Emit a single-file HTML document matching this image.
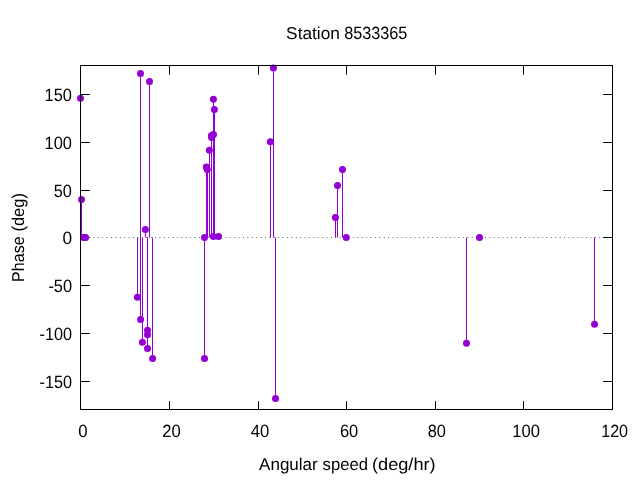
<!DOCTYPE html>
<html lang="en"><head><meta charset="utf-8"><title>Station 8533365</title>
<style>html,body{margin:0;padding:0;background:#fff;overflow:hidden}svg{display:block}text{text-rendering:geometricPrecision;font-family:"Liberation Sans",sans-serif;font-size:17.2px;fill:#000}</style></head><body>
<svg width="640" height="480" viewBox="0 0 640 480">
<rect width="640" height="480" fill="#fff"/>
<line x1="80.5" y1="237.5" x2="612.5" y2="237.5" stroke="#000" stroke-opacity="0.62" stroke-width="1" stroke-dasharray="1 3.3987" stroke-dashoffset="0.3"/>
<path d="M80.5 381.5h9.3M612.5 381.5h-9.3M80.5 333.5h9.3M612.5 333.5h-9.3M80.5 285.5h9.3M612.5 285.5h-9.3M80.5 237.5h9.3M612.5 237.5h-9.3M80.5 190.5h9.3M612.5 190.5h-9.3M80.5 142.5h9.3M612.5 142.5h-9.3M80.5 94.5h9.3M612.5 94.5h-9.3M169.5 409.5v-8.4M169.5 65.5v9.2M258.5 409.5v-8.4M258.5 65.5v9.2M346.5 409.5v-8.4M346.5 65.5v9.2M435.5 409.5v-8.4M435.5 65.5v9.2M523.5 409.5v-8.4M523.5 65.5v9.2" stroke="#000" stroke-width="1" fill="none"/>
<path d="M80.5 237.5V98.3M81.5 237.5V199.4M140.5 237.5V73.6M149.5 237.5V81.4M145.4 237.5V229.4M137.5 237.5V297.25M140.5 237.5V319.4M142.5 237.5V342.25M147.5 237.5V330.25M147.5 237.5V334.75M147.5 237.5V348.4M152.5 237.5V358.4M204.5 237.5V358.4M206.5 237.5V167.0M207.5 237.5V169.4M209.5 237.5V150.3M211.5 237.5V135.4M211.5 237.5V137.5M213.5 237.5V134.5M213.5 237.5V99.25M214.5 237.5V109.6M270.5 237.5V141.7M273.5 237.5V67.9M275.5 237.5V398.4M335.5 237.5V217.5M337.5 237.5V185.6M342.5 237.5V169.55M466.5 237.5V343.3M594.5 237.5V324.35" stroke="#9400d3" stroke-width="1" fill="none"/>
<g fill="#9400d3">
<circle cx="80.5" cy="98.3" r="3.5"/>
<circle cx="81.5" cy="199.4" r="3.5"/>
<circle cx="83.5" cy="237.5" r="3.5"/>
<circle cx="85.0" cy="237.5" r="3.5"/>
<circle cx="85.5" cy="237.5" r="3.5"/>
<circle cx="140.5" cy="73.6" r="3.5"/>
<circle cx="149.5" cy="81.4" r="3.5"/>
<circle cx="145.4" cy="229.4" r="3.5"/>
<circle cx="137.45" cy="297.25" r="3.5"/>
<circle cx="140.6" cy="319.4" r="3.5"/>
<circle cx="142.4" cy="342.25" r="3.5"/>
<circle cx="147.5" cy="330.25" r="3.5"/>
<circle cx="147.5" cy="334.75" r="3.5"/>
<circle cx="147.5" cy="348.4" r="3.5"/>
<circle cx="152.6" cy="358.4" r="3.5"/>
<circle cx="204.5" cy="237.5" r="3.5"/>
<circle cx="204.5" cy="358.4" r="3.5"/>
<circle cx="206.3" cy="167.0" r="3.5"/>
<circle cx="207.3" cy="169.4" r="3.5"/>
<circle cx="209.4" cy="150.3" r="3.5"/>
<circle cx="211.5" cy="135.4" r="3.5"/>
<circle cx="211.6" cy="137.5" r="3.5"/>
<circle cx="213.5" cy="134.5" r="3.5"/>
<circle cx="213.4" cy="99.25" r="3.5"/>
<circle cx="214.4" cy="109.6" r="3.5"/>
<circle cx="213.4" cy="236.4" r="3.5"/>
<circle cx="218.5" cy="236.4" r="3.5"/>
<circle cx="270.4" cy="141.7" r="3.5"/>
<circle cx="273.45" cy="67.9" r="3.5"/>
<circle cx="275.5" cy="398.4" r="3.5"/>
<circle cx="335.4" cy="217.5" r="3.5"/>
<circle cx="337.5" cy="185.6" r="3.5"/>
<circle cx="342.5" cy="169.55" r="3.5"/>
<circle cx="346.25" cy="237.5" r="3.5"/>
<circle cx="466.5" cy="343.3" r="3.5"/>
<circle cx="479.5" cy="237.5" r="3.5"/>
<circle cx="594.5" cy="324.35" r="3.5"/>
</g>
<rect x="80.5" y="65.5" width="532.0" height="344.0" fill="none" stroke="#000" stroke-width="1"/>
<text y="39"><tspan x="286.14" textLength="53.75" lengthAdjust="spacingAndGlyphs">Station</tspan></text>
<text y="39.1" style="font-size:17.8px"><tspan x="344.19" textLength="63.21" lengthAdjust="spacingAndGlyphs">8533365</tspan></text>
<text y="470"><tspan x="259.10" textLength="58.66" lengthAdjust="spacingAndGlyphs">Angular</tspan> <tspan x="322.58" textLength="45.35" lengthAdjust="spacingAndGlyphs">speed</tspan> <tspan x="371.96" textLength="63.70" lengthAdjust="spacingAndGlyphs">(deg/hr)</tspan></text>
<text y="0" transform="translate(24.4 280.6) rotate(-90)"><tspan x="-1.30" textLength="45.47" lengthAdjust="spacingAndGlyphs">Phase</tspan> <tspan x="49.07" textLength="38.41" lengthAdjust="spacingAndGlyphs">(deg)</tspan></text>
<text y="100.87" style="font-size:17.8px"><tspan x="44.52" textLength="27.39" lengthAdjust="spacingAndGlyphs">150</tspan></text>
<text y="148.87" style="font-size:17.8px"><tspan x="44.52" textLength="27.39" lengthAdjust="spacingAndGlyphs">100</tspan></text>
<text y="196.87" style="font-size:17.8px"><tspan x="53.79" textLength="18.12" lengthAdjust="spacingAndGlyphs">50</tspan></text>
<text y="243.97" style="font-size:17.8px"><tspan x="62.45" textLength="9.59" lengthAdjust="spacingAndGlyphs">0</tspan></text>
<text y="291.87" style="font-size:17.8px"><tspan x="48.38" textLength="23.66" lengthAdjust="spacingAndGlyphs">-50</tspan></text>
<text y="339.77" style="font-size:17.8px"><tspan x="39.49" textLength="32.54" lengthAdjust="spacingAndGlyphs">-100</tspan></text>
<text y="387.57" style="font-size:17.8px"><tspan x="39.49" textLength="32.54" lengthAdjust="spacingAndGlyphs">-150</tspan></text>
<text y="437.45" style="font-size:17.8px"><tspan x="78.17" textLength="9.36" lengthAdjust="spacingAndGlyphs">0</tspan></text>
<text y="437.45" style="font-size:17.8px"><tspan x="162.37" textLength="18.50" lengthAdjust="spacingAndGlyphs">20</tspan></text>
<text y="437.45" style="font-size:17.8px"><tspan x="250.83" textLength="18.49" lengthAdjust="spacingAndGlyphs">40</tspan></text>
<text y="437.45" style="font-size:17.8px"><tspan x="339.88" textLength="18.34" lengthAdjust="spacingAndGlyphs">60</tspan></text>
<text y="437.45" style="font-size:17.8px"><tspan x="427.68" textLength="18.23" lengthAdjust="spacingAndGlyphs">80</tspan></text>
<text y="437.45" style="font-size:17.8px"><tspan x="512.26" textLength="27.66" lengthAdjust="spacingAndGlyphs">100</tspan></text>
<text y="437.45" style="font-size:17.8px"><tspan x="601.19" textLength="26.91" lengthAdjust="spacingAndGlyphs">120</tspan></text>
</svg></body></html>
